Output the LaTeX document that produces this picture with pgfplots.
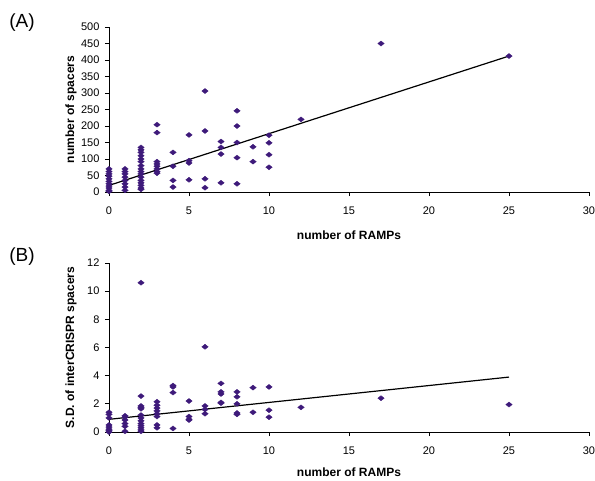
\documentclass[border=0pt]{standalone}
\usepackage{fontspec}
\setmainfont{Liberation Sans}
\usepackage{pgfplots}
\pgfplotsset{compat=1.18}
\definecolor{ptcol}{RGB}{62,26,122}

\pgfplotsset{
  rampaxis/.style={
    scale only axis, width=480pt,
    xmin=0, xmax=30, xtick={0,5,...,30},
    axis lines*=left,
    axis line style={-, black, line width=0.8pt},
    tick align=outside, major tick length=4pt,
    tick style={black, line width=0.8pt},
    ticklabel style={font=\fontsize{11}{13}\selectfont},
    xticklabel style={yshift=-7pt},
    yticklabel style={xshift=-2pt},
    /pgf/number format/assume math mode=true,
    xlabel={number of RAMPs},
    label style={font=\bfseries\fontsize{12}{14}\selectfont},
    xlabel style={at={(axis description cs:0.5,0)}, anchor=center, yshift=-43pt},
    ylabel style={at={(axis description cs:0,0.5)}, anchor=center, yshift=38pt},
    clip=false,
  },
  pts/.style={only marks, mark=diamond*, mark size=2.5pt,
    mark options={xscale=1.7, fill=ptcol, draw=ptcol, line width=0.4pt}},
  fit/.style={black, line width=1.2pt, no marks},
}

\begin{document}
\begin{tikzpicture}
\useasboundingbox (0pt,0pt) rectangle (595pt,-480pt);

% (A) number of spacers vs number of RAMPs
\begin{axis}[rampaxis, at={(109pt,-192pt)}, anchor=south west,
    height=165pt, ymin=0, ymax=500, ytick={0,50,...,500},
    ylabel={number of spacers}]
\addplot[pts] coordinates {
  (0,70) (0,62) (0,55) (0,48) (0,40) (0,32) (0,25) (0,18) (0,12) (0,5) (0,2)
  (1,70) (1,62) (1,55) (1,45) (1,35) (1,25) (1,15) (1,5)
  (2,135) (2,128) (2,120) (2,110) (2,100) (2,92) (2,80) (2,70) (2,62)
  (2,55) (2,45) (2,35) (2,28) (2,20) (2,12) (2,8)
  (3,204) (3,180) (3,92) (3,85) (3,78) (3,70) (3,62) (3,57)
  (4,120) (4,78) (4,35) (4,15)
  (5,173) (5,95) (5,88) (5,37)
  (6,306) (6,185) (6,40) (6,13)
  (7,153) (7,135) (7,115) (7,28)
  (8,246) (8,200) (8,150) (8,104) (8,25)
  (9,137) (9,92)
  (10,172) (10,149) (10,113) (10,75)
  (12,220) (17,450) (25,412)
};
\addplot[fit] coordinates {(0,20) (25,412)};
\end{axis}
\node[font=\fontsize{19}{22}\selectfont] at (22pt,-23pt) {(A)};

% (B) S.D. of interCRISPR spacers vs number of RAMPs
\begin{axis}[rampaxis, at={(109pt,-432pt)}, anchor=south west,
    height=169pt, ymin=0, ymax=12, ytick={0,2,...,12},
    ylabel={S.D. of interCRISPR spacers},
    xlabel style={yshift=3pt}]
\addplot[pts] coordinates {
  (0,1.4) (0,1.25) (0,1.0) (0,0.5) (0,0.35) (0,0.2) (0,0.1) (0,0.0)
  (1,1.15) (1,1.05) (1,0.85) (1,0.6) (1,0.4) (1,0.05)
  (2,10.6) (2,2.55) (2,1.85) (2,1.75) (2,1.65) (2,1.2) (2,1.0) (2,0.8)
  (2,0.6) (2,0.45) (2,0.3) (2,0.15) (2,0.05)
  (3,2.15) (3,1.9) (3,1.7) (3,1.5) (3,1.3) (3,1.1) (3,0.5) (3,0.3)
  (4,3.3) (4,3.2) (4,2.8) (4,0.25)
  (5,2.2) (5,1.1) (5,0.9) (5,0.85)
  (6,6.05) (6,1.85) (6,1.6) (6,1.3)
  (7,3.45) (7,2.85) (7,2.7) (7,2.1) (7,2.05)
  (8,2.85) (8,2.5) (8,2.0) (8,1.35) (8,1.25)
  (9,3.15) (9,1.4)
  (10,3.2) (10,1.55) (10,1.05)
  (12,1.75) (17,2.4) (25,1.95)
};
\addplot[fit] coordinates {(0,0.9) (25,3.9)};
\end{axis}
\node[font=\fontsize{19}{22}\selectfont] at (22pt,-257pt) {(B)};
\end{tikzpicture}
\end{document}
